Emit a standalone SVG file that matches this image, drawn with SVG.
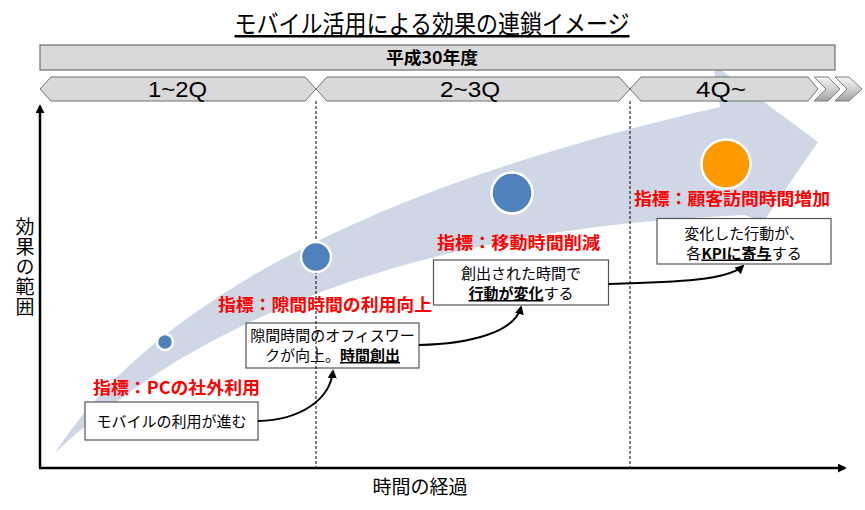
<svg xmlns="http://www.w3.org/2000/svg" width="865" height="510" viewBox="0 0 865 510">
<defs>
<style>
text{font-family:'Noto Sans CJK JP','Noto Sans',sans-serif;fill:#000}
.bar{fill:#d9d9d9;stroke:#6e6e6e;stroke-width:1.2}
.hex{fill:#d9d9d9;stroke:#6e6e6e;stroke-width:1}
.chev{fill:url(#cg);stroke:#7f7f7f;stroke-width:1}
.qt{font-family:'Liberation Sans','Noto Sans',sans-serif;font-size:22px;text-anchor:start}
.axis{stroke:#000;stroke-width:2.5;fill:none}
.dash{stroke:#000;stroke-width:1;stroke-dasharray:3 2;fill:none}
.dot{fill:#4f81bd;stroke:#fff;stroke-width:2.5}
.kpi{fill:#ff0000;font-weight:bold;font-size:17px}
.box{fill:#fff;stroke:#555;stroke-width:1.2}
.bt{font-size:15px;text-anchor:middle}
.em{font-weight:bold;text-decoration:underline}
.conn{stroke:#000;stroke-width:2;fill:none}
</style>
<linearGradient id="cg" x1="0" y1="0" x2="0" y2="1">
<stop offset="0" stop-color="#f4f4f4"/>
<stop offset="0.5" stop-color="#d0d0d0"/>
<stop offset="1" stop-color="#a0a0a0"/>
</linearGradient>
<marker id="ah" viewBox="0 0 10 10" refX="8" refY="5" markerWidth="4.5" markerHeight="4.5" orient="auto" markerUnits="strokeWidth">
<path d="M0,0 L10,5 L0,10 z" fill="#000"/>
</marker>
<marker id="ax" viewBox="0 0 10 10" refX="8" refY="5" markerWidth="3.6" markerHeight="3.6" orient="auto" markerUnits="strokeWidth">
<path d="M0,0 L10,5 L0,10 z" fill="#000"/>
</marker>
</defs>

<!-- big curved arrow band -->
<path id="band" d="M55,453 C160,290 400,180 720,107 L713,64 L818,142 L763,222 L745,215 C500,225 240,280 55,453 Z" fill="#cfd7e7"/>

<!-- title -->
<text x="432" y="33" font-size="25" text-anchor="middle" textLength="395" lengthAdjust="spacingAndGlyphs" text-decoration="underline">モバイル活用による効果の連鎖イメージ</text>

<!-- year bar -->
<g id="year">
<rect class="bar" x="40" y="45" width="795" height="25"/>
<text x="432" y="64" font-size="17" font-weight="bold" text-anchor="middle" textLength="92" lengthAdjust="spacingAndGlyphs">平成30年度</text>
</g>

<!-- quarter chevrons -->
<g id="q1">
<polygon class="hex" points="40,89 51,77 305,77 316,89 305,101 51,101"/>
<text class="qt" x="148" y="97" textLength="59" lengthAdjust="spacingAndGlyphs">1~2Q</text>
</g>
<g id="q2">
<polygon class="hex" points="316,89 327,77 619,77 630,89 619,101 327,101"/>
<text class="qt" x="440" y="97" textLength="60" lengthAdjust="spacingAndGlyphs">2~3Q</text>
</g>
<g id="q3">
<polygon class="hex" points="630,89 641,77 808,77 818,89 808,101 641,101"/>
<text class="qt" x="696" y="97" textLength="50" lengthAdjust="spacingAndGlyphs">4Q~</text>
</g>
<g id="more">
<polygon class="chev" points="814,77 828,77 840,89 828,101 814,101 826,89"/>
<polygon class="chev" points="835,77 849,77 862,89 849,101 835,101 847,89"/>
</g>

<!-- boxes -->
<g id="box1">
<rect class="box" x="85" y="402" width="173" height="38"/>
<text class="bt" x="171.5" y="427" font-size="15.5">モバイルの利用が進む</text>
</g>
<g id="box2">
<rect class="box" x="246" y="323" width="173" height="45"/>
<text class="bt" x="332.5" y="341">隙間時間のオフィスワー</text>
<text class="bt" x="332.5" y="361">クが向上。<tspan class="em">時間創出</tspan></text>
</g>
<g id="box3">
<rect class="box" x="433.5" y="260" width="175" height="45"/>
<text class="bt" x="521" y="279">創出された時間で</text>
<text class="bt" x="521" y="299"><tspan class="em">行動が変化</tspan>する</text>
</g>
<g id="box4">
<rect class="box" x="657" y="218.5" width="174" height="45.5"/>
<text class="bt" x="744" y="238.5">変化した行動が、</text>
<text class="bt" x="744" y="258.5">各<tspan class="em">KPIに寄与</tspan>する</text>
</g>

<!-- axes and dividers -->
<g id="axes">
<line class="dash" x1="316" y1="101" x2="316" y2="467"/>
<line class="dash" x1="630" y1="101" x2="630" y2="467"/>
<path class="axis" d="M40,468 L40,106" marker-end="url(#ax)"/>
<path class="axis" d="M39,468 L845,468" marker-end="url(#ax)"/>
<text x="25" y="217" font-size="19" style="writing-mode:vertical-rl" letter-spacing="1">効果の範囲</text>
<text x="420" y="494" font-size="19" text-anchor="middle">時間の経過</text>
</g>

<!-- milestones -->
<g id="m1"><circle class="dot" cx="165" cy="342" r="8"/></g>
<g id="m2"><circle class="dot" cx="316" cy="257" r="15"/></g>
<g id="m3"><circle class="dot" cx="512" cy="193" r="20.5"/></g>
<g id="m4"><circle cx="726" cy="164" r="24.5" fill="#ff9900" stroke="#fff" stroke-width="2.5"/></g>

<!-- KPI labels -->
<g id="k1"><text class="kpi" x="93" y="394" textLength="167" lengthAdjust="spacingAndGlyphs">指標：PCの社外利用</text></g>
<g id="k2"><text class="kpi" x="218" y="311" textLength="214" lengthAdjust="spacingAndGlyphs">指標：隙間時間の利用向上</text></g>
<g id="k3"><text class="kpi" x="437" y="249" textLength="163" lengthAdjust="spacingAndGlyphs">指標：移動時間削減</text></g>
<g id="k4"><text class="kpi" x="634" y="205" textLength="196" lengthAdjust="spacingAndGlyphs">指標：顧客訪問時間増加</text></g>

<!-- connectors -->
<g id="connectors">
<path class="conn" d="M258,421 C300,420 330,400 333,371" marker-end="url(#ah)"/>
<path class="conn" d="M419,345 C470,344 515,332 521,307" marker-end="url(#ah)"/>
<path class="conn" d="M608.5,284 C680,282 728,280 743,266" marker-end="url(#ah)"/>
</g>
</svg>
